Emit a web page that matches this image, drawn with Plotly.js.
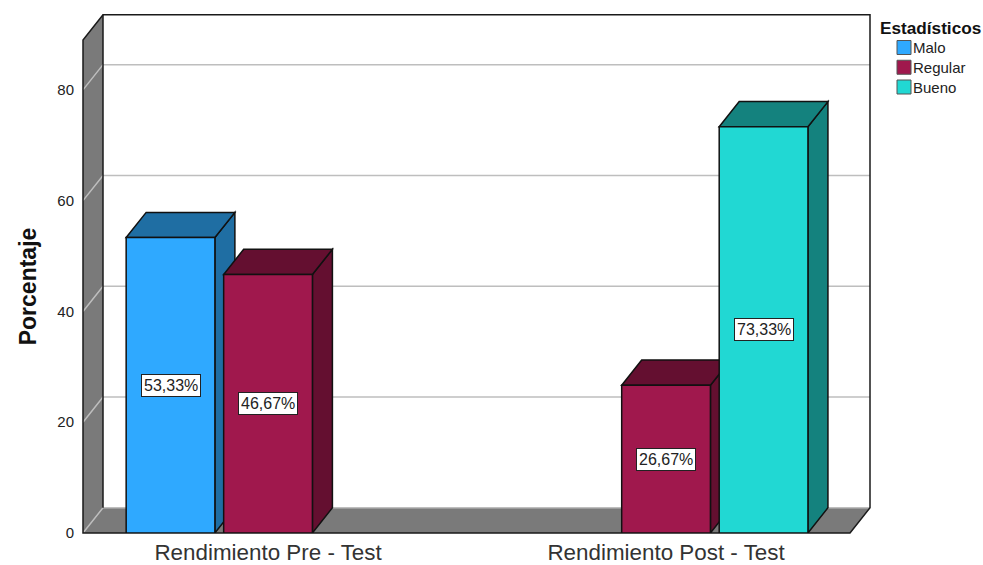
<!DOCTYPE html>
<html>
<head>
<meta charset="utf-8">
<script src="https://cdn.plot.ly/plotly-3.0.1.min.js"></script>
<style>html,body{margin:0;padding:0;background:#fff}#chart{width:983px;height:565px}</style>
</head>
<body>
<div id="chart"></div>
<script>
// Survey results: share of each performance level, before and after the test
const categories = ['Rendimiento Pre - Test', 'Rendimiento Post - Test'];
const seriesNames = ['Malo', 'Regular', 'Bueno'];
const malo = [53.33, null];
const regular = [46.67, 26.67];
const bueno = [null, 73.33];
const frontColors = ['#2FA9FF', '#A0184D', '#21D8D3'];
const sideColors = ['#1F6EA3', '#640F30', '#14827E'];
const yTicks = [0, 20, 40, 60, 80];

const values = [malo, regular, bueno];
const fontFamily = '"Liberation Sans", Arial, sans-serif';

// Plot frame, in page pixels
const W = 983, H = 565;
const left = 83, right = 870, bottom = 533, frontTop = 40;
const plotW = right - left, plotH = bottom - frontTop;

// Axis scales: px per y unit, px per category step
const yMax = 89;
const xStart = -0.4649, xEnd = 1.5124;

// 3D extrusion of the bars and the room
const depthPx = 20, riseY = 4.55;
const depthX = depthPx / (plotW / (xEnd - xStart));
const riseFrac = riseY / yMax, depthFrac = depthPx / plotW;

// Grouped bar geometry
const bargap = 0.265, bargroupgap = 0.09;
const slot = (1 - bargap) / seriesNames.length;
const barW = slot * (1 - bargroupgap);
const slotCenter = (cat, s) => cat + (s - (seriesNames.length - 1) / 2) * slot;

const shapes = [];
const poly = pts => 'M' + pts.map(p => p.join(',')).join('L') + 'Z';
const frameLine = {color: '#1a1a1a', width: 1.5};

// Room: left wall and floor
shapes.push({type: 'path', layer: 'below', xref: 'paper', yref: 'paper', fillcolor: '#7A7A7A', line: {width: 0},
  path: poly([[0, 0], [depthFrac, riseFrac], [depthFrac, 1 + riseFrac], [0, 1]])});
shapes.push({type: 'path', layer: 'below', xref: 'paper', yref: 'paper', fillcolor: '#7A7A7A', line: {width: 0},
  path: poly([[0, 0], [depthFrac, riseFrac], [1, riseFrac], [1 - depthFrac, 0]])});

// Gridlines run across the left wall, then along the back wall
yTicks.forEach(t => {
  shapes.push({type: 'path', layer: 'below', xref: 'paper', yref: 'y', line: {color: '#BEBEBE', width: 1.5},
    path: 'M0,' + t + 'L' + depthFrac + ',' + (t + riseY) + 'L1,' + (t + riseY)});
});

// Room outline
shapes.push({type: 'path', layer: 'below', xref: 'paper', yref: 'paper', line: frameLine,
  path: 'M0,0L0,1L' + depthFrac + ',' + (1 + riseFrac) + 'L1,' + (1 + riseFrac) + 'L1,' + riseFrac +
        'L' + (1 - depthFrac) + ',0Z'});
shapes.push({type: 'line', layer: 'below', xref: 'paper', yref: 'paper', line: frameLine,
  x0: depthFrac, x1: depthFrac, y0: riseFrac, y1: 1 + riseFrac});

// Top and side faces of every bar; the fronts are the bar traces on top of these
const faceLine = {color: '#111', width: 1.5};
categories.forEach((c, ci) => {
  values.forEach((vals, si) => {
    const v = vals[ci];
    if (v === null) return;
    const x0 = slotCenter(ci, si) - barW / 2, x1 = x0 + barW;
    shapes.push({type: 'path', layer: 'below', xref: 'x', yref: 'y', fillcolor: sideColors[si], line: faceLine,
      path: poly([[x1, 0], [x1 + depthX, riseY], [x1 + depthX, v + riseY], [x1, v]])});
    shapes.push({type: 'path', layer: 'below', xref: 'x', yref: 'y', fillcolor: sideColors[si], line: faceLine,
      path: poly([[x0, v], [x0 + depthX, v + riseY], [x1 + depthX, v + riseY], [x1, v]])});
  });
});

const traces = seriesNames.map((name, si) => ({
  type: 'bar', name, x: categories, y: values[si],
  marker: {color: frontColors[si], line: {color: '#111', width: 1.5}},
  hoverinfo: 'x+y+name'
}));

const annotations = [];

// Value labels in the middle of each bar
categories.forEach((c, ci) => {
  values.forEach((vals, si) => {
    const v = vals[ci];
    if (v === null) return;
    annotations.push({
      xref: 'x', yref: 'y', x: slotCenter(ci, si), y: v / 2, showarrow: false,
      text: v.toFixed(2).replace('.', ',') + '%',
      font: {family: fontFamily, size: 16, color: '#222'},
      bgcolor: '#fff', bordercolor: '#222', borderwidth: 1, borderpad: 2
    });
  });
});

// Key to the right of the plot
const paperX = px => (px - left) / plotW;
const paperY = py => (bottom - py) / plotH;
annotations.push({
  xref: 'paper', yref: 'paper', x: paperX(878), y: paperY(28), xanchor: 'left', yanchor: 'middle',
  showarrow: false, text: '<b>Estadísticos</b>',
  font: {family: fontFamily, size: 17.2, color: '#111'}
});
seriesNames.forEach((name, i) => {
  const cy = 47.5 + i * 19.75;
  shapes.push({
    type: 'rect', xref: 'paper', yref: 'paper', layer: 'above',
    x0: paperX(897), x1: paperX(911), y0: paperY(cy + 7), y1: paperY(cy - 7),
    fillcolor: frontColors[i], line: {color: '#555', width: 1}
  });
  annotations.push({
    xref: 'paper', yref: 'paper', x: paperX(911), y: paperY(cy), xanchor: 'left', yanchor: 'middle',
    showarrow: false, text: name, font: {family: fontFamily, size: 15, color: '#222'}
  });
});

const layout = {
  width: W, height: H,
  margin: {l: left, r: W - right, t: frontTop, b: H - bottom, pad: 0},
  paper_bgcolor: '#fff', plot_bgcolor: '#fff',
  showlegend: false,
  barmode: 'group', bargap, bargroupgap,
  font: {family: fontFamily},
  xaxis: {
    type: 'category', categoryorder: 'array', categoryarray: categories,
    range: [xStart, xEnd], showgrid: false, zeroline: false, showline: false,
    ticks: '', ticklabelstandoff: 4,
    tickfont: {family: fontFamily, size: 22.4, color: '#333'}
  },
  yaxis: {
    range: [0, yMax], tickvals: yTicks, showgrid: false, zeroline: false, showline: false,
    ticks: 'outside', ticklen: 5, tickcolor: 'rgba(0,0,0,0)',
    tickfont: {family: fontFamily, size: 15, color: '#222'},
    title: {text: '<b>Porcentaje</b>', font: {family: fontFamily, size: 23, color: '#111'}, standoff: 14}
  },
  shapes, annotations
};

Plotly.newPlot('chart', traces, layout, {displayModeBar: false, staticPlot: true});
</script>
</body>
</html>
